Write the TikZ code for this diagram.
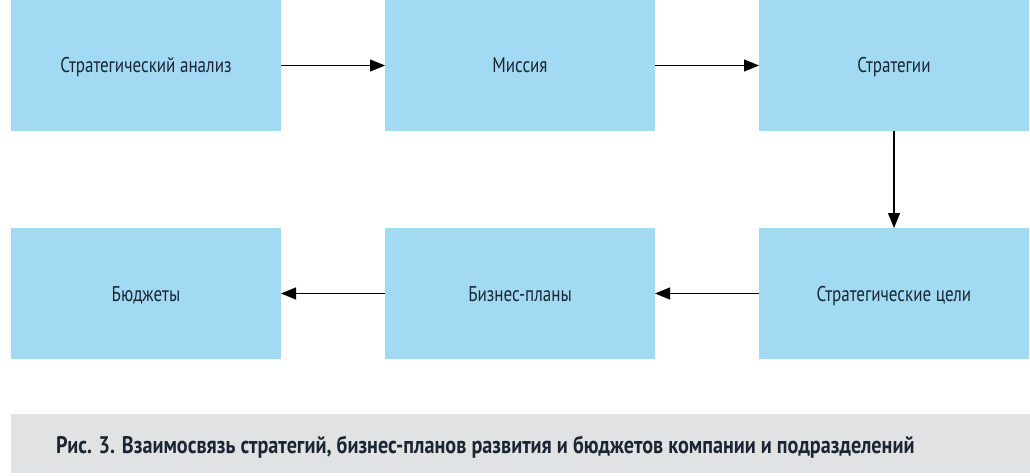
\documentclass[tikz,border=0pt]{standalone}
\usepackage{fontspec}
\setmainfont{PT Sans}[FakeStretch=0.8]
\newfontfamily\capfont{PT Sans}[FakeStretch=0.84]
\usepackage{tikz}
\usetikzlibrary{arrows.meta,positioning}
\usepackage{xcolor}
\definecolor{boxblue}{HTML}{A2DAF3}
\definecolor{bandgray}{HTML}{E1E2E4}
\definecolor{textdark}{HTML}{1B2632}
\tikzset{
    stagebox/.style={fill=boxblue, minimum width=270pt, minimum height=131pt,
        inner sep=0pt, outer sep=0pt, text=textdark, text height=15pt, text depth=0pt,
        font=\fontsize{21.3}{25}\selectfont},
    link/.style={-{Triangle[length=15pt,width=12pt]}, line width=1.1pt, black}
}

\begin{document}
\begin{tikzpicture}[x=1pt, y=1pt]
    \useasboundingbox (0,0) rectangle (1030,-476);

    % Top row
    \node[stagebox] (analysis) at (146,-65.5) {Стратегический анализ};
    \node[stagebox, right=104pt of analysis] (mission) {Миссия};
    \node[stagebox, right=104pt of mission] (strategies) {Стратегии};

    % Bottom row
    \node[stagebox, below=97pt of strategies] (goals) {Стратегические цели};
    \node[stagebox, left=104pt of goals] (plans) {Бизнес-планы};
    \node[stagebox, left=104pt of plans] (budgets) {Бюджеты};

    % Links
    \draw[link] (analysis) -- (mission);
    \draw[link] (mission) -- (strategies);
    \draw[link] (strategies) -- (goals);
    \draw[link] (goals) -- (plans);
    \draw[link] (plans) -- (budgets);

    % Caption
    \fill[bandgray] (11,-414) rectangle (1030,-473);
    \node[anchor=base west, inner sep=0pt, text=textdark,
        font=\capfont\bfseries\fontsize{24}{28}\selectfont] (caption) at (56,-453)
        {Рис. 3. Взаимосвязь стратегий, бизнес-планов развития и бюджетов компании и подразделений};
\end{tikzpicture}
\end{document}
